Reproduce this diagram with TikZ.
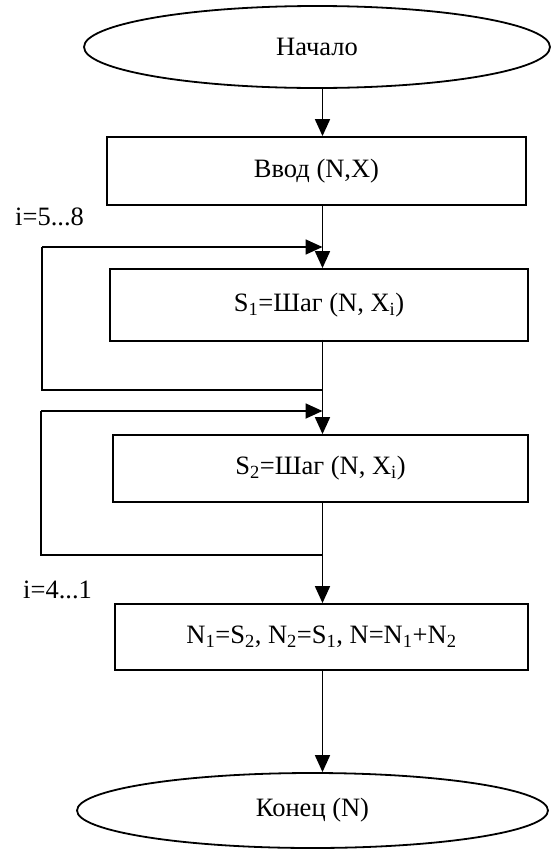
\documentclass[tikz,border=0pt]{standalone}
\usepackage{fontspec}
\setmainfont{Liberation Serif}
\usetikzlibrary{shapes.geometric,arrows.meta}
\begin{document}
\begin{tikzpicture}[x=1pt,y=-1pt,
  every node/.style={font=\fontsize{26.5}{30}\selectfont},
  line/.style={line width=1.8pt},
  arr/.style={line width=1.8pt,-{Triangle[length=17pt,width=15pt]}},
  oval/.style={draw,line width=1.8pt,ellipse,inner sep=0pt},
  blk/.style={draw,line width=1.8pt,rectangle,inner sep=0pt}]
\useasboundingbox (0,0) rectangle (551,849);
\node[oval,minimum width=466pt,minimum height=82pt] (start) at (317,47) {Начало};
\node[blk,minimum width=419pt,minimum height=68pt] (input) at (316.5,171) {Ввод (N,X)};
\node[blk,minimum width=418pt,minimum height=72pt] (s1) at (319,305) {S\textsubscript{1}=Шаг (N, X\textsubscript{i})};
\node[blk,minimum width=415pt,minimum height=67pt] (s2) at (320.5,468.5) {S\textsubscript{2}=Шаг (N, X\textsubscript{i})};
\node[blk,minimum width=413pt,minimum height=66pt] (calc) at (321.5,637) {N\textsubscript{1}=S\textsubscript{2}, N\textsubscript{2}=S\textsubscript{1}, N=N\textsubscript{1}+N\textsubscript{2}};
\node[oval,minimum width=471pt,minimum height=75pt] (end) at (312.5,810.5) {Конец (N)};
\node[anchor=west,inner sep=0pt] (lab1) at (15,217) {i=5...8};
\node[anchor=west,inner sep=0pt] (lab2) at (23,590) {i=4...1};
\coordinate (sp) at (322.5,0);
% loop 1
\coordinate (l1t) at (322.5,247);
\coordinate (l1b) at (322.5,390);
\coordinate (l1tl) at (42,247);
\coordinate (l1bl) at (42,390);
% loop 2
\coordinate (l2t) at (322.5,411);
\coordinate (l2b) at (322.5,555);
\coordinate (l2tl) at (41,411);
\coordinate (l2bl) at (41,555);
% main spine
\draw[arr] (start.south -| sp) -- (input.north -| sp);
\draw[arr] (input.south -| sp) -- (s1.north -| sp);
\draw[arr] ([yshift=2pt]s1.south -| sp) -- (s2.north -| sp);
\draw[arr] (s2.south -| sp) -- (calc.north -| sp);
\draw[arr] (calc.south -| sp) -- (end.north -| sp);
% loops
\draw[line] (l1b) -- (l1bl) -- (l1tl);
\draw[arr] (l1tl) -- (l1t);
\draw[line] (l2b) -- (l2bl) -- (l2tl);
\draw[arr] (l2tl) -- (l2t);
\end{tikzpicture}
\end{document}
